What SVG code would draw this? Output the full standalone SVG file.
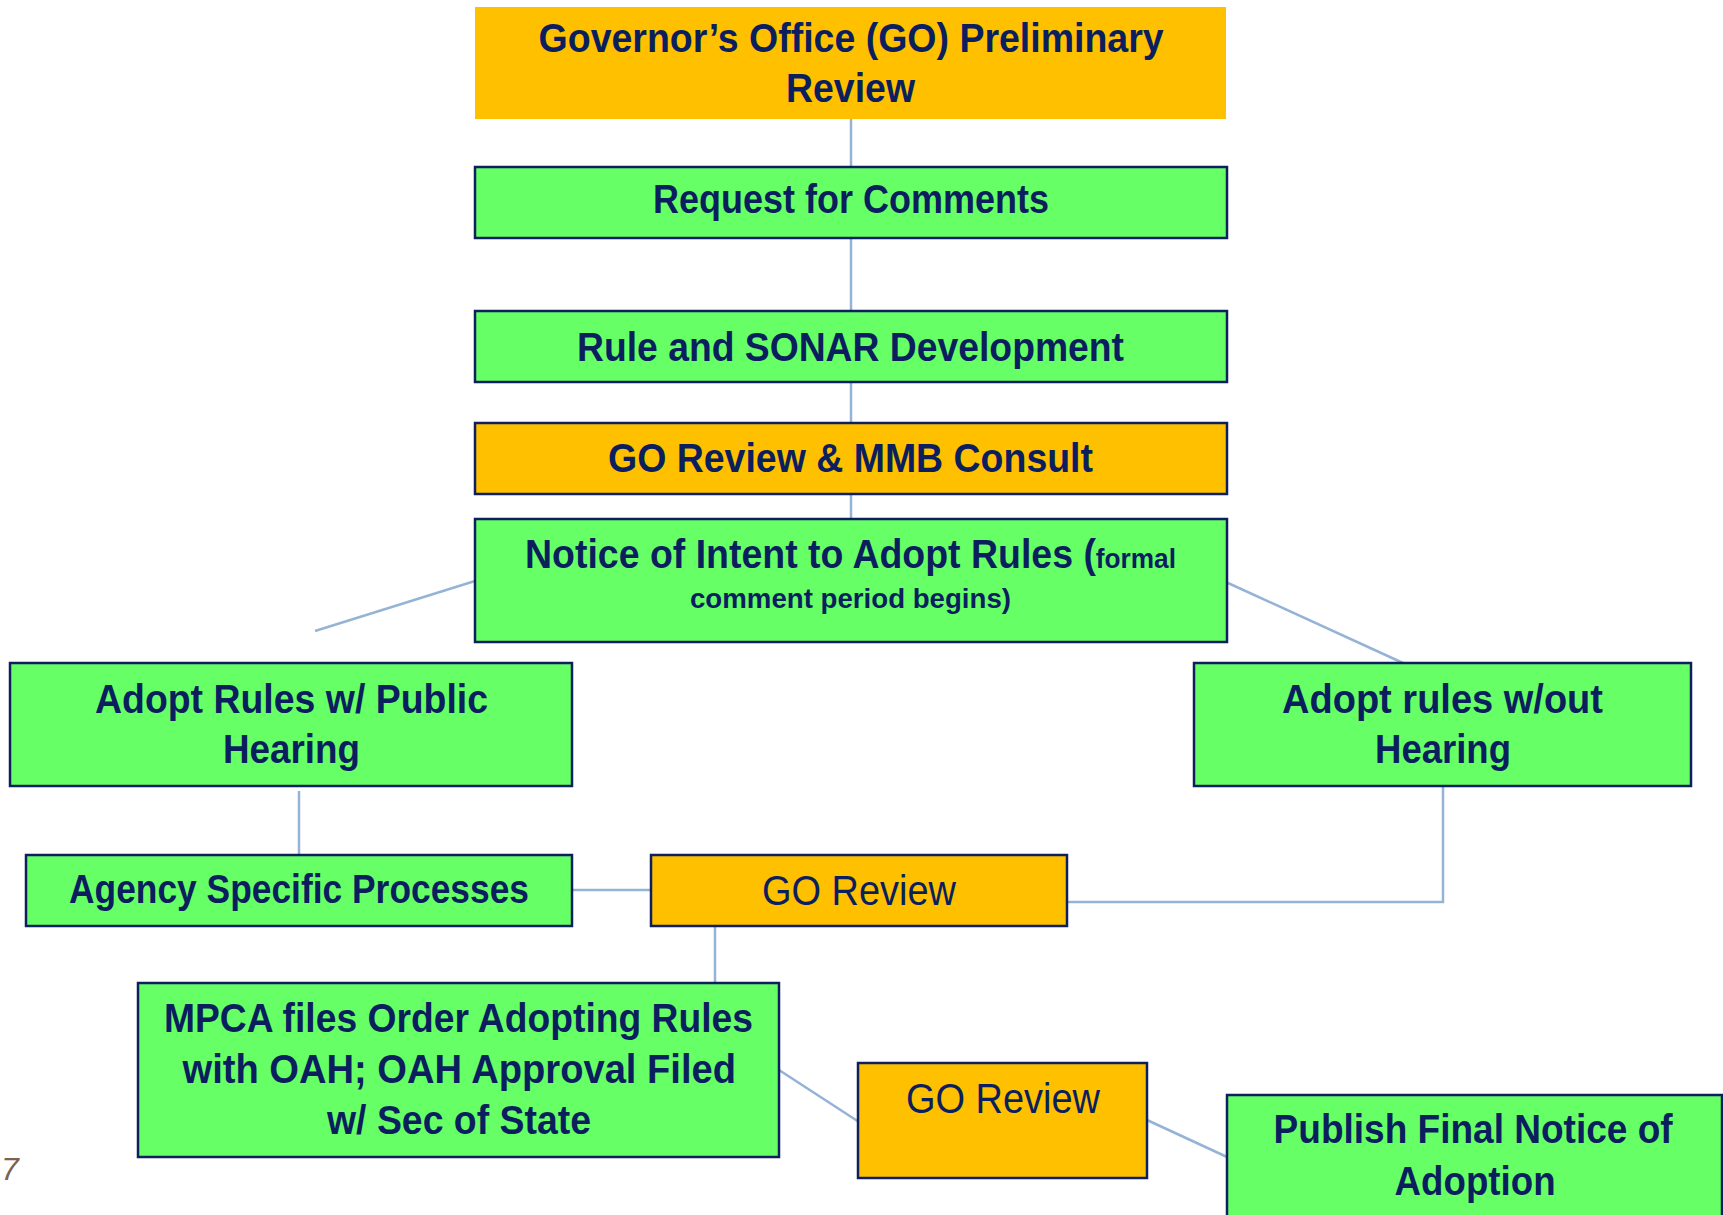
<svg xmlns="http://www.w3.org/2000/svg" width="1723" height="1215" viewBox="0 0 1723 1215">
<style>
.g{fill:#66FF66;stroke:#0D1F5C;stroke-width:2.5}
.o{fill:#FFC000;stroke:#0D1F5C;stroke-width:2.5}
.t{font-family:"Liberation Sans",Arial,sans-serif;font-weight:bold;font-size:40px;fill:#0B1F5E}
.r{font-family:"Liberation Sans",Arial,sans-serif;font-weight:normal;font-size:42px;fill:#0B1F5E}
.s{font-family:"Liberation Sans",Arial,sans-serif;font-weight:bold;font-size:28px;fill:#0B1F5E}
.c{fill:none;stroke:#95B3D7;stroke-width:2.5}
</style>
<rect width="1723" height="1215" fill="#ffffff"/>
<g id="connectors">
<line class="c" x1="851" y1="119" x2="851" y2="167"/>
<line class="c" x1="851" y1="238" x2="851" y2="311"/>
<line class="c" x1="851" y1="382" x2="851" y2="423"/>
<line class="c" x1="851" y1="494" x2="851" y2="519"/>
<line class="c" x1="475" y1="581" x2="315" y2="631"/>
<line class="c" x1="1228" y1="583" x2="1403" y2="663"/>
<line class="c" x1="299" y1="791" x2="299" y2="855"/>
<line class="c" x1="572" y1="890" x2="651" y2="890"/>
<polyline class="c" points="1443,786 1443,902 1067,902"/>
<line class="c" x1="715" y1="919" x2="715" y2="983"/>
<line class="c" x1="779" y1="1070" x2="859" y2="1122"/>
<line class="c" x1="1147" y1="1120" x2="1227" y2="1157"/>
</g>
<g id="go-preliminary">
<rect x="475" y="7" width="751" height="112" fill="#FFC000"/>
<text class="t" x="538.6" y="52" textLength="625" lengthAdjust="spacingAndGlyphs">Governor’s Office (GO) Preliminary</text>
<text class="t" x="786" y="102" textLength="129" lengthAdjust="spacingAndGlyphs">Review</text>
</g>
<g id="request">
<rect class="g" x="475" y="167" width="752" height="71"/>
<text class="t" x="653" y="213" textLength="396" lengthAdjust="spacingAndGlyphs">Request for Comments</text>
</g>
<g id="rule-sonar">
<rect class="g" x="475" y="311" width="752" height="71"/>
<text class="t" x="577" y="361" textLength="547" lengthAdjust="spacingAndGlyphs">Rule and SONAR Development</text>
</g>
<g id="go-mmb">
<rect class="o" x="475" y="423" width="752" height="71"/>
<text class="t" x="608" y="472" textLength="485" lengthAdjust="spacingAndGlyphs">GO Review &amp; MMB Consult</text>
</g>
<g id="notice">
<rect class="g" x="475" y="519" width="752" height="123"/>
<text class="t" x="525" y="568" textLength="651" lengthAdjust="spacingAndGlyphs">Notice of Intent to Adopt Rules (<tspan class="s">formal</tspan></text>
<text class="s" x="690" y="608" textLength="321" lengthAdjust="spacingAndGlyphs">comment period begins)</text>
</g>
<g id="adopt-public">
<rect class="g" x="10" y="663" width="562" height="123"/>
<text class="t" x="95" y="713" textLength="393" lengthAdjust="spacingAndGlyphs">Adopt Rules w/ Public</text>
<text class="t" x="223" y="763" textLength="137" lengthAdjust="spacingAndGlyphs">Hearing</text>
</g>
<g id="adopt-without">
<rect class="g" x="1194" y="663" width="497" height="123"/>
<text class="t" x="1282" y="713" textLength="321" lengthAdjust="spacingAndGlyphs">Adopt rules w/out</text>
<text class="t" x="1375" y="763" textLength="136" lengthAdjust="spacingAndGlyphs">Hearing</text>
</g>
<g id="agency">
<rect class="g" x="26" y="855" width="546" height="71"/>
<text class="t" x="69" y="903" textLength="460" lengthAdjust="spacingAndGlyphs">Agency Specific Processes</text>
</g>
<g id="go-review-1">
<rect class="o" x="651" y="855" width="416" height="71"/>
<text class="r" x="762" y="905" textLength="194" lengthAdjust="spacingAndGlyphs">GO Review</text>
</g>
<g id="mpca">
<rect class="g" x="138" y="983" width="641" height="174"/>
<text class="t" x="164" y="1032" textLength="589" lengthAdjust="spacingAndGlyphs">MPCA files Order Adopting Rules</text>
<text class="t" x="182.5" y="1083" textLength="553.5" lengthAdjust="spacingAndGlyphs">with OAH; OAH Approval Filed</text>
<text class="t" x="327" y="1134" textLength="264" lengthAdjust="spacingAndGlyphs">w/ Sec of State</text>
</g>
<g id="go-review-2">
<rect class="o" x="858" y="1063" width="289" height="115"/>
<text class="r" x="906" y="1113" textLength="194" lengthAdjust="spacingAndGlyphs">GO Review</text>
</g>
<g id="publish">
<rect class="g" x="1227" y="1095" width="495" height="140"/>
<text class="t" x="1273.6" y="1143" textLength="399" lengthAdjust="spacingAndGlyphs">Publish Final Notice of</text>
<text class="t" x="1394.6" y="1195" textLength="161" lengthAdjust="spacingAndGlyphs">Adoption</text>
</g>
<text x="1" y="1180" font-family="Liberation Sans,Arial,sans-serif" font-style="italic" font-size="32" fill="#7A6255">7</text>
</svg>
